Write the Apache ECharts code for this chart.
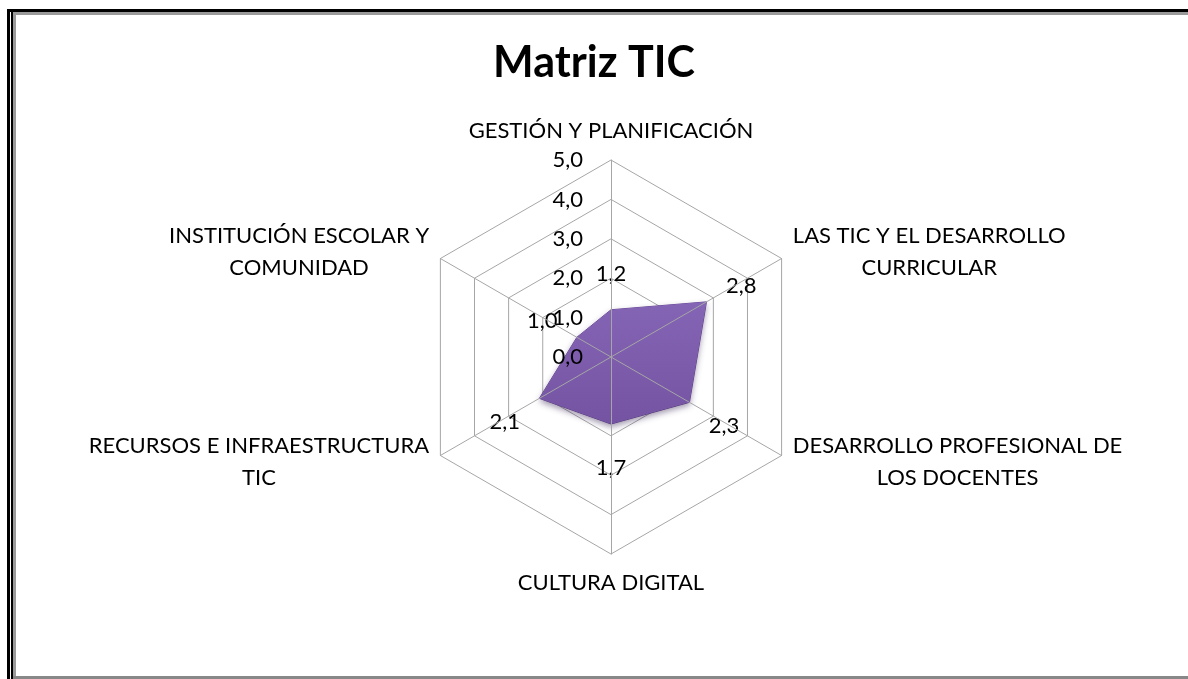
<!DOCTYPE html>
<html>
<head>
<meta charset="utf-8">
<script src="https://cdn.jsdelivr.net/npm/echarts@6/dist/echarts.min.js"></script>
<style>
  html, body { margin: 0; padding: 0; background: #fff; }
  #chart { position: absolute; left: 0; top: 0; width: 1188px; height: 679px; }
  .ln { position: absolute; }
</style>
</head>
<body>
<div id="chart"></div>
<!-- marco doble del gráfico -->
<div class="ln" style="left:7px;top:9px;width:1181px;height:3px;background:#000"></div>
<div class="ln" style="left:7px;top:9px;width:3px;height:670px;background:#000"></div>
<div class="ln" style="left:11px;top:12px;width:2px;height:667px;background:#000"></div>
<div class="ln" style="left:13px;top:12px;width:3px;height:667px;background:#9a9a9a"></div>
<div class="ln" style="left:13px;top:12px;width:1175px;height:3px;background:#9a9a9a"></div>
<div class="ln" style="left:13px;top:676px;width:1175px;height:3px;background:#888"></div>
<script>
// ejes en el orden de ECharts (desde arriba, sentido antihorario)
const dimensiones = [
  'GESTIÓN Y PLANIFICACIÓN',
  'INSTITUCIÓN ESCOLAR Y\nCOMUNIDAD',
  'RECURSOS E INFRAESTRUCTURA\nTIC',
  'CULTURA DIGITAL',
  'DESARROLLO PROFESIONAL DE\nLOS DOCENTES',
  'LAS TIC Y EL DESARROLLO\nCURRICULAR'
];
const puntajes = [1.2, 1.0, 2.1, 1.7, 2.3, 2.8];
const escalaMax = 5;
const escalaPasos = 5;

const fuente = 'Lato, "Open Sans", sans-serif';
const centro = [0.5143, 0.5258];
const gris = '#a6a6a6';

const chart = echarts.init(document.getElementById('chart'));

const coma = v => Number(v).toFixed(1).replace('.', ',');

// parte común de los dos radares (fondo con anillos, frente con ejes)
const radarBase = (conNombres) => ({
  center: [(centro[0] * 100) + '%', (centro[1] * 100) + '%'],
  radius: 197,
  startAngle: 90,
  shape: 'polygon',
  splitNumber: escalaPasos,
  axisNameGap: 13,
  indicator: dimensiones.map((n, i) => ({
    name: conNombres ? n : '',
    min: 0,
    max: escalaMax,
    axisLabel: { show: !conNombres && i === 0 }
  })),
  splitArea: { show: false },
  axisTick: { show: false }
});

const option = {
  backgroundColor: 'transparent',
  title: {
    text: 'Matriz TIC',
    left: 'center',
    top: 37,
    textStyle: { fontFamily: fuente, fontWeight: 'bold', fontSize: 43, color: '#000' }
  },
  radar: [
    Object.assign(radarBase(true), {
      z: 0,
      axisName: {
        color: '#000',
        fontFamily: fuente,
        fontSize: 22,
        formatter: n => n.split('\n').map(s => '{c|' + s + '}').join('\n'),
        rich: {
          c: { align: 'center', fontFamily: fuente, fontSize: 22, lineHeight: 32, color: '#000' }
        }
      },
      axisLine: { show: false },
      splitLine: { lineStyle: { color: gris, width: 1 } },
      axisLabel: { show: false }
    }),
    Object.assign(radarBase(false), {
      z: 5,
      axisName: { show: false },
      axisLine: { lineStyle: { color: gris, width: 1 } },
      splitLine: { show: false },
      axisLabel: {
        show: true,
        showMinLabel: true,
        color: '#000',
        fontFamily: fuente,
        fontSize: 22,
        margin: 28,
        formatter: v => coma(v)
      }
    })
  ],
  series: [{
    type: 'radar',
    radarIndex: 0,
    z: 2,
    symbol: 'circle',
    symbolSize: 2,
    itemStyle: { color: 'rgba(0,0,0,0)' },
    lineStyle: { color: '#6a4a98', width: 1 },
    areaStyle: {
      opacity: 1,
      color: new echarts.graphic.LinearGradient(0, 0, 0, 1, [
        { offset: 0, color: '#8464b4' },
        { offset: 1, color: '#7454a2' }
      ]),
      shadowBlur: 6,
      shadowOffsetY: 3,
      shadowColor: 'rgba(40,20,70,0.45)'
    },
    label: {
      show: true,
      color: '#000',
      fontFamily: fuente,
      fontSize: 22,
      formatter: p => coma(p.value)
    },
    labelLayout: function (p) {
      const cx = chart.getWidth() * centro[0];
      const cy = chart.getHeight() * centro[1];
      const sx = p.rect.x + p.rect.width / 2;
      const sy = p.rect.y + p.rect.height / 2;
      const dx = sx - cx, dy = sy - cy;
      const len = Math.hypot(dx, dy) || 1;
      return { x: sx + dx / len * 40, y: sy + dy / len * 40 + 4, align: 'center', verticalAlign: 'middle' };
    },
    data: [{ value: puntajes, name: 'Matriz TIC' }]
  }]
};

chart.setOption(option);
</script>
</body>
</html>
